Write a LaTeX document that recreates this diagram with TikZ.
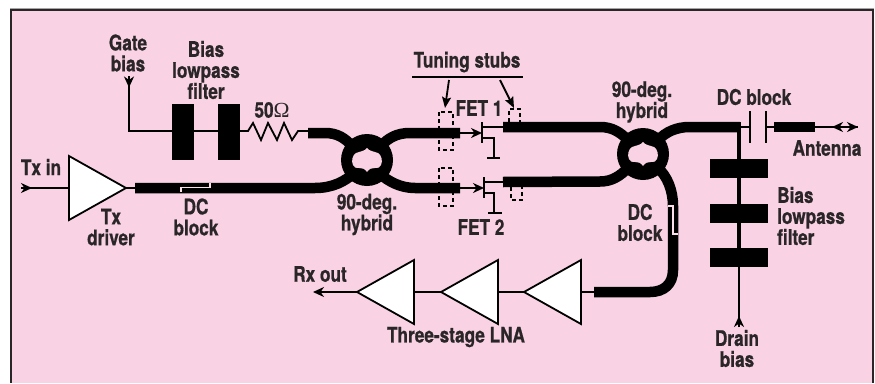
\documentclass[tikz,border=0pt]{standalone}
\usepackage{fontspec}
\setmainfont[FakeStretch=0.8,BoldFeatures={FakeBold=0.7}]{TeX Gyre Heros}
\newfontfamily\omfont{Liberation Serif}
\usetikzlibrary{arrows.meta,shapes.geometric}
\definecolor{bgpink}{HTML}{F9D2E4}
\definecolor{ink}{HTML}{2A2628}
\definecolor{gapcol}{HTML}{FBE0EC}
\tikzset{
  lbl/.style={font=\fontsize{21.5}{21}\selectfont\bfseries,text=ink,align=center,inner sep=0pt},
  wire/.style={line width=1.8pt,black},
  thick line/.style={line width=10.5pt,black,line cap=butt},
  stubline/.style={line width=1.5pt,black,dash pattern=on 4pt off 3pt},
  gapline/.style={line width=1.1pt,gapcol},
  blockv/.style={fill=black,draw=none,inner sep=0pt,minimum width=22pt,minimum height=56pt},
  blockh/.style={fill=black,draw=none,inner sep=0pt,minimum width=58pt,minimum height=19pt},
  amp/.style={isosceles triangle,isosceles triangle stretches=true,draw=black,fill=white,line width=1.8pt,
    inner sep=0pt,outer sep=0pt,minimum width=64pt,minimum height=57pt},
  ampl/.style={amp,shape border rotate=180},
  head/.style={-{Stealth[length=11pt,width=10pt,inset=3.5pt]}},
  ring/.style={circle,fill=black,draw=none,inner sep=0pt,minimum size=52pt},
}
\newcommand{\hole}[1]{%
  \fill[bgpink,shift={(#1)}] (0,-12) .. controls (-2,-9) and (-7,-8.5) .. (-11,-7)
    .. controls (-14.5,-5) and (-16,1) .. (-14,5)
    .. controls (-13,7.5) and (-11,8.5) .. (-8,8)
    .. controls (-5,7.5) and (-2,9) .. (0,12)
    .. controls (2,9) and (5,7.5) .. (8,8)
    .. controls (11,8.5) and (13,7.5) .. (14,5)
    .. controls (16,1) and (14.5,-5) .. (11,-7)
    .. controls (7,-8.5) and (2,-9) .. (0,-12) -- cycle;}
\begin{document}
\begin{tikzpicture}[x=1pt,y=-1pt]
\useasboundingbox (0,0) rectangle (875,383);
\fill[white] (0,0) rectangle (875,383);
\fill[bgpink] (11,10) rectangle (873,383);
\draw[line width=0.8pt,gray!70] (10,8.6) -- (874,8.6);
\draw[line width=2pt,ink] (11,383) -- (11,10) -- (873,10) -- (873,383);

% coordinates
\coordinate (gbEnd) at (129,76);
\coordinate (gbCorner) at (129,131);
\coordinate (txinEnd) at (21,188);
\coordinate (t1L) at (135,188);
\coordinate (resA) at (248,131);
\coordinate (resB) at (298,131);
\coordinate (hyb1TL) at (308,133);
\coordinate (hyb1TLin) at (308,131);
\coordinate (hyb1TR) at (460,133);
\coordinate (hyb1BR) at (460,188);
\coordinate (hyb2TL) at (503,127);
\coordinate (hyb2BL) at (503,182);
\coordinate (hyb2TR) at (740,127);
\coordinate (hyb2BR) at (594,292);
\coordinate (fet1g) at (482,133);
\coordinate (fet2g) at (484,188);
\coordinate (capL) at (750,127);
\coordinate (capR) at (766,127);
\coordinate (antA) at (774,127);
\coordinate (antB) at (815,127);
\coordinate (antC) at (858,127);
\coordinate (antD) at (831,127);
\coordinate (drainEnd) at (739,327);
\coordinate (rxEnd) at (313,292);

% thin wires
\draw[head,wire] (gbEnd) -- ++(0,11.5);
\draw[wire] (gbEnd) -- (gbCorner) -- (172,131);
\draw[wire] (240,131) -- (resA) -- (253,123) -- (261,140) -- (268,123) -- (277,140) -- (284,123) -- (292,140) -- (resB) -- (hyb1TLin);
\draw[line width=2.6pt] (194,131) -- (218,131);

% blocks
\node[blockv] (lp1) at (183,132) {};
\node[blockv] (lp2) at (229,132) {};

% Tx path
\node[amp,anchor=apex] (txdrv) at (126,188) {};
\draw[head,wire] (txinEnd) -- (32,188);
\draw[wire] (txinEnd) -- (txdrv.lower side);
\draw[wire] (txdrv.apex) -- (t1L);

% Hybrid 1
\draw[thick line] (t1L) -- (315,188) .. controls (333,188) and (345,181) .. (353,174);
\draw[thick line] (hyb1TL) -- (325,133) .. controls (337,133) and (345,138) .. (352,146);
\draw[thick line] (hyb1TR) -- (410,133) .. controls (397,133) and (388,138) .. (381,146);
\draw[thick line] (hyb1BR) -- (415,188) .. controls (400,188) and (388,181) .. (380,174);
\node[ring] (hyb1) at (367,160) {};
\hole{367,160}
\draw[gapline] (181,192) -- (181,187.5) -- (210,187.5) -- (210,183);

% Hybrid 2
\draw[thick line] (hyb2TL) -- (600,127) .. controls (612,127) and (620,132) .. (628,140);
\draw[thick line] (hyb2BL) -- (600,181.5) .. controls (612,181.5) and (620,176) .. (628,168);
\draw[thick line] (hyb2TR) -- (690,127) .. controls (676,127) and (666,132) .. (658,140);
\draw[thick line] (658,168) .. controls (667,176) and (673,190) .. (673,206) -- (673,270) .. controls (673,284) and (664,292) .. (650,292) -- (hyb2BR);
\node[ring] (hyb2) at (643,154) {};
\hole{643,154}
\draw[gapline] (668,206) -- (673,206) -- (673,234) -- (678,234);

% FET 1
\draw[head,wire] (hyb1TR) -- (fet1g);
\draw[wire] (482,122) -- (482,143);
\draw[wire] (482,127) -- (hyb2TL);
\draw[wire] (482,138) -- (494,138) -- (494,158);
\draw[wire] (487,158) -- (500,158);
% FET 2
\draw[head,wire] (hyb1BR) -- (fet2g);
\draw[wire] (484,177) -- (484,198);
\draw[wire] (484,182) -- (hyb2BL);
\draw[wire] (484,193) -- (494,193) -- (494,213);
\draw[wire] (488,213) -- (502,213);

% Stubs
\draw[stubline] (439,112) rectangle (453,150);
\draw[stubline] (439,168) rectangle (453,206);
\draw[stubline] (509,122) -- (509,109) -- (520,109) -- (520,122);
\draw[stubline] (511,187) -- (511,200) -- (522,200) -- (522,187);

% Tuning stubs
\node[lbl] (tuning) at (467,62) {Tuning stubs};
\coordinate (tunL) at (412,77);
\coordinate (tunR) at (523,77);
\draw[wire] (tunL) -- (tunR);
\draw[wire,-{Stealth[length=11pt,width=9pt,inset=2pt]}] (449,80) -- (445,108);
\draw[wire,-{Stealth[length=11pt,width=9pt,inset=2pt]}] (500,80) -- (514,108);

% Output
\draw[wire] (hyb2TR) -- (capL);
\draw[wire] (750,111) -- (750,143);
\draw[wire] (766,111) -- (766,143);
\draw[wire] (capR) -- (antA);
\draw[thick line] (antA) -- (antB);
\draw[wire] (antB) -- (antC);
\draw[head,wire] (antD) -- (antC);
\draw[head,wire] (846,127) -- (832,127);

% Drain line
\draw[line width=3.4pt] (hyb2TR) ++(-1,-5) -- (739,267);
\draw[wire] (739,267) -- (drainEnd);
\draw[head,wire] (drainEnd) -- ++(0,-11);
\node[blockh] (b1) at (739,168.5) {};
\node[blockh] (b2) at (739,213.5) {};
\node[blockh] (b3) at (739,257.5) {};

% LNA
\node[ampl,anchor=apex] (lna3) at (524,292) {};
\node[ampl,anchor=apex] (lna2) at (441,292) {};
\node[ampl,anchor=apex] (lna1) at (357,292) {};
\draw[wire] (hyb2BR) -- (lna3.lower side);
\draw[wire] (lna3.apex) -- (lna2.lower side);
\draw[wire] (lna2.apex) -- (lna1.lower side);
\draw[head,wire] (lna1.apex) -- (rxEnd);

% Labels
\node[lbl] (gate) at (128,53) {Gate\\bias};
\node[lbl] (biasA) at (206,70) {Bias\\lowpass\\filter};
\node[lbl] (ohm) at (272,110) {50{\omfont\mdseries Ω}};
\node[lbl] (txin) at (41,167) {Tx in};
\node[lbl] (txd) at (111,227) {Tx\\driver};
\node[lbl] (dc1) at (196,217) {DC\\block};
\node[lbl] (hy1) at (367,214.5) {90-deg.\\hybrid};
\node[lbl] (fet1) at (479,108) {FET 1};
\node[lbl] (fet2) at (481,227) {FET 2};
\node[lbl] (hy2) at (642,102) {90-deg.\\hybrid};
\node[lbl] (dcb) at (754,97) {DC block};
\node[lbl] (ant) at (827,148) {Antenna};
\node[lbl,anchor=west,align=left] (biasB) at (777,216) {Bias\\lowpass\\filter};
\node[lbl] (dc2) at (640,222.5) {DC\\block};
\node[lbl] (drain) at (737,348.5) {Drain\\bias};
\node[lbl] (rx) at (320,274) {Rx out};
\node[lbl] (lna) at (456,337) {Three-stage LNA};
\end{tikzpicture}
\end{document}
